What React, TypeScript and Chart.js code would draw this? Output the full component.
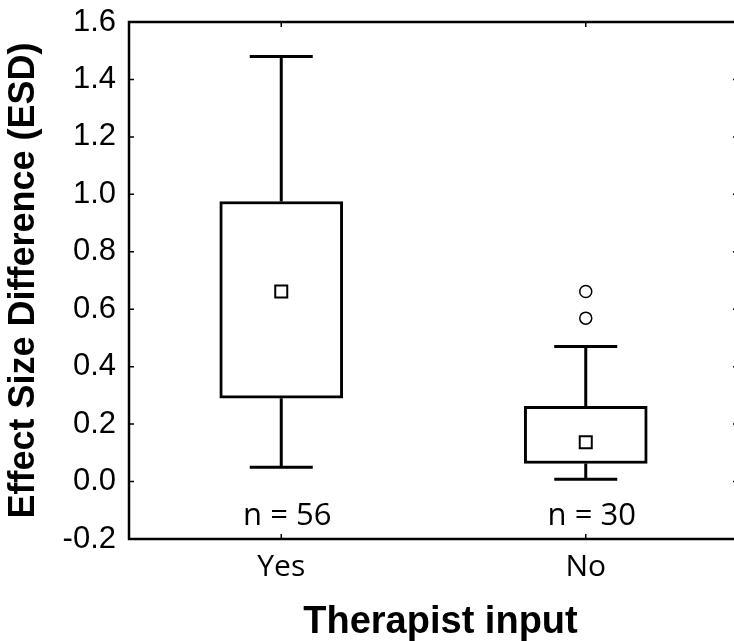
import React, { useEffect, useRef } from "react";
import { Chart, registerables } from "chart.js";

Chart.register(...registerables);

// ---- data ----
const categories = ["Yes", "No"];
const sampleSizes = [56, 30];
const whiskerLow = [0.05, 0.008];
const boxLow = [0.29, 0.063];
const boxHigh = [0.975, 0.262];
const whiskerHigh = [1.48, 0.47];
const means = [0.662, 0.137];
const outlierCategories = ["No", "No"];
const outlierValues = [0.662, 0.569];
const yTicks = [-0.2, 0.0, 0.2, 0.4, 0.6, 0.8, 1.0, 1.2, 1.4, 1.6];
const nLabelLevel = -0.15;
const xTitle = "Therapist input";
const yTitle = "Effect Size Difference (ESD)";

const framePlugin = {
  id: "framePlugin",
  beforeDatasetsDraw(chart: any) {
    const { ctx } = chart;
    const xs = chart.scales.x;
    const ys = chart.scales.y;
    ctx.save();
    ctx.strokeStyle = "#000";
    ctx.lineWidth = 3;
    ctx.lineCap = "butt";
    const capHalf = 31.5;
    categories.forEach((c, i) => {
      const x = xs.getPixelForValue(i);
      const yLo = ys.getPixelForValue(whiskerLow[i]);
      const yQ1 = ys.getPixelForValue(boxLow[i]);
      const yQ3 = ys.getPixelForValue(boxHigh[i]);
      const yHi = ys.getPixelForValue(whiskerHigh[i]);
      ctx.beginPath();
      ctx.moveTo(x, yLo);
      ctx.lineTo(x, yQ1);
      ctx.moveTo(x, yQ3);
      ctx.lineTo(x, yHi);
      ctx.moveTo(x - capHalf, yLo);
      ctx.lineTo(x + capHalf, yLo);
      ctx.moveTo(x - capHalf, yHi);
      ctx.lineTo(x + capHalf, yHi);
      ctx.stroke();
    });
    ctx.restore();
  },
  afterDraw(chart: any) {
    const { ctx, chartArea } = chart;
    const { left, right, top, bottom } = chartArea;
    const xs = chart.scales.x;
    const ys = chart.scales.y;
    ctx.save();
    ctx.strokeStyle = "#000";
    ctx.lineWidth = 2.5;
    ctx.strokeRect(left, top, right - left, bottom - top);
    ctx.lineWidth = 1.5;
    const tl = 5;
    ctx.beginPath();
    yTicks.forEach((v) => {
      const y = ys.getPixelForValue(v);
      ctx.moveTo(left, y);
      ctx.lineTo(left + tl, y);
      ctx.moveTo(right, y);
      ctx.lineTo(right - tl, y);
    });
    categories.forEach((c, i) => {
      const x = xs.getPixelForValue(i);
      ctx.moveTo(x, top);
      ctx.lineTo(x, top + tl);
      ctx.moveTo(x, bottom);
      ctx.lineTo(x, bottom - tl);
    });
    ctx.stroke();

    ctx.fillStyle = "#000";
    ctx.font = '31px "Open Sans"';
    ctx.textAlign = "center";
    ctx.textBaseline = "alphabetic";
    categories.forEach((c, i) => {
      const x = xs.getPixelForValue(i) + 6;
      const y = ys.getPixelForValue(nLabelLevel);
      ctx.fillText("n = " + sampleSizes[i], x, y);
    });

    ctx.font = 'bold 38px "Liberation Sans", Arial';
    ctx.fillText(xTitle, (left + right) / 2 + 7, 633);
    ctx.restore();
  },
};

export default function App() {
  const ref = useRef<HTMLCanvasElement | null>(null);
  useEffect(() => {
    if (!ref.current) return;
    const chart = new Chart(ref.current, {
      type: "bar",
      data: {
        labels: categories,
        datasets: [
          {
            type: "bar",
            data: categories.map((c, i) => [boxLow[i], boxHigh[i]]),
            backgroundColor: "#fff",
            borderColor: "#000",
            borderWidth: 3,
            borderSkipped: false,
            barThickness: 123,
            order: 2,
          } as any,
          {
            type: "line",
            data: means,
            showLine: false,
            pointStyle: "rect",
            pointRadius: 8.5,
            pointBorderWidth: 2,
            pointBackgroundColor: "#fff",
            pointBorderColor: "#000",
            order: 1,
          } as any,
          {
            type: "line",
            data: outlierCategories.map((c, i) => ({ x: c, y: outlierValues[i] })),
            showLine: false,
            pointStyle: "circle",
            pointRadius: 6,
            pointBorderWidth: 1.5,
            pointBackgroundColor: "#fff",
            pointBorderColor: "#000",
            order: 0,
          } as any,
        ],
      },
      options: {
        animation: false,
        responsive: false,
        devicePixelRatio: 1,
        layout: { autoPadding: false, padding: { left: 0, top: 22, right: 4, bottom: 0 } },
        plugins: { legend: { display: false }, tooltip: { enabled: false } },
        scales: {
          x: {
            type: "category",
            offset: true,
            grid: { display: false, drawTicks: false },
            border: { display: false },
            ticks: {
              color: "#000",
              padding: 10,
              font: { family: '"Open Sans"', size: 30 },
            },
            title: { display: false },
            afterFit: (s: any) => {
              s.height = 102;
              s.paddingLeft = 0;
              s.paddingRight = 0;
            },
          },
          y: {
            min: -0.2,
            max: 1.6,
            grid: { display: false, drawTicks: false },
            border: { display: false },
            ticks: {
              stepSize: 0.2,
              color: "#000",
              padding: 13,
              font: { family: '"Liberation Sans", Arial', size: 31 },
              callback: (v: any) => Number(v).toFixed(1),
            },
            title: {
              display: true,
              text: yTitle,
              color: "#000",
              font: { family: '"Liberation Sans", Arial', size: 36, weight: "bold", lineHeight: 1 },
              padding: { top: 6, bottom: 0 },
            },
            afterFit: (s: any) => {
              s.width = 129;
              s.paddingTop = 0;
              s.paddingBottom = 0;
            },
          },
        },
      },
      plugins: [framePlugin],
    });
    return () => chart.destroy();
  }, []);
  return (
    <div
      style={{
        position: "fixed",
        left: 0,
        top: 0,
        width: 734,
        height: 641,
        overflow: "hidden",
        background: "#fff",
      }}
    >
      <div style={{ width: 742, height: 641 }}>
        <canvas ref={ref} width={742} height={641} style={{ width: 742, height: 641, display: "block" }} />
      </div>
    </div>
  );
}
